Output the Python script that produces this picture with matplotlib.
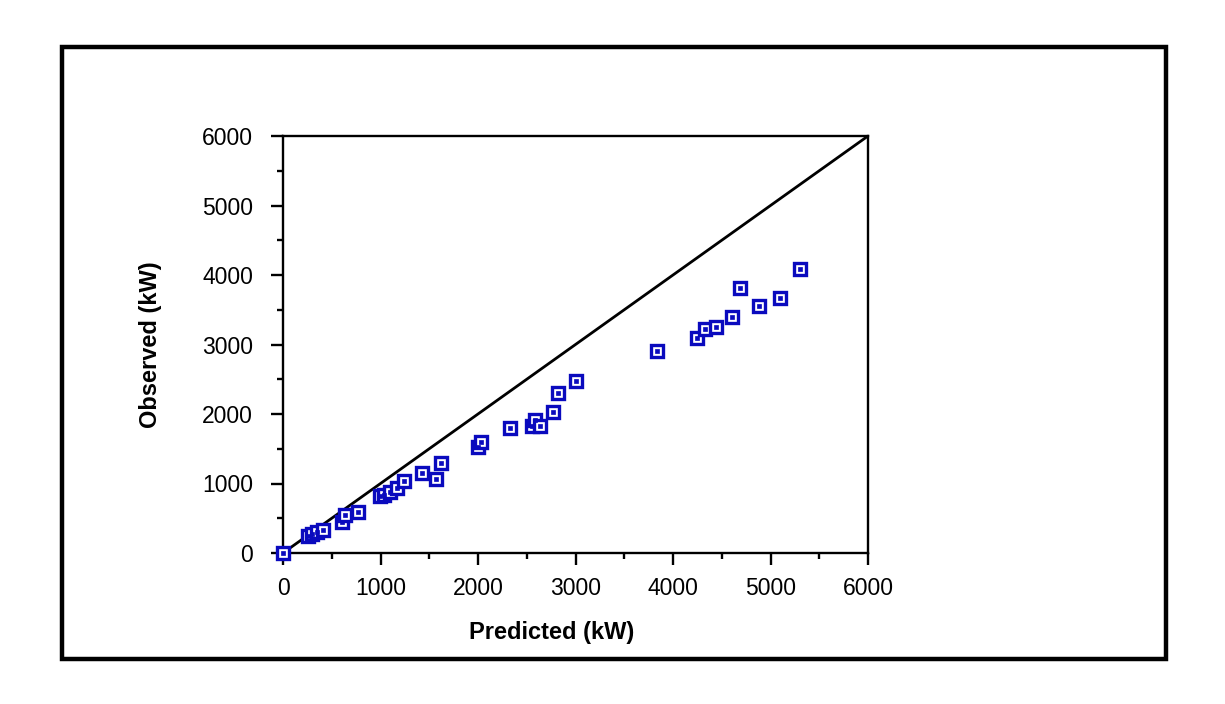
import matplotlib
matplotlib.use('Agg')
import matplotlib.pyplot as plt
from matplotlib.patches import Rectangle
from matplotlib.ticker import MultipleLocator

# === DATA ===
predicted = [0, 260, 300, 350, 410, 610, 640, 770, 990, 1040, 1100, 1170, 1240,
             1430, 1570, 1620, 2000, 2030, 2330, 2550, 2580, 2640, 2770, 2820,
             3000, 3840, 4250, 4330, 4440, 4600, 4690, 4880, 5100, 5300]
observed = [0, 245, 280, 300, 330, 450, 550, 590, 820, 840, 880, 940, 1030,
            1150, 1060, 1290, 1530, 1600, 1800, 1830, 1920, 1830, 2030, 2300,
            2480, 2900, 3100, 3220, 3250, 3400, 3820, 3550, 3670, 4090]
line_x = [0, 6000]
line_y = [0, 6000]

BLUE = '#0A0ABE'
plt.rcParams['font.family'] = ['Liberation Sans', 'DejaVu Sans']

fig = plt.figure(figsize=(12.25, 7.04), dpi=100)
fig.patch.set_facecolor('white')

# outer frame
fig.patches.append(Rectangle((62 / 1225, 1 - 659 / 704), (1166 - 62) / 1225, (659 - 47) / 704,
                             transform=fig.transFigure, fill=False,
                             edgecolor='black', linewidth=3.2))

ax = fig.add_axes([283 / 1225, 1 - 553 / 704, (868 - 283) / 1225, (553 - 136) / 704])

ax.plot(line_x, line_y, color='black', linewidth=2.0, zorder=2)
ax.plot(predicted, observed, linestyle='none', marker='s', markersize=9,
        markerfacecolor='white', markeredgecolor=BLUE, markeredgewidth=2.4,
        clip_on=False, zorder=3)
ax.plot(predicted, observed, linestyle='none', marker='s', markersize=2.2,
        markerfacecolor=BLUE, markeredgecolor=BLUE, markeredgewidth=0.5,
        clip_on=False, zorder=4)

ax.set_xlim(0, 6000)
ax.set_ylim(0, 6000)
ax.xaxis.set_major_locator(MultipleLocator(1000))
ax.yaxis.set_major_locator(MultipleLocator(1000))
ax.xaxis.set_minor_locator(MultipleLocator(500))
ax.yaxis.set_minor_locator(MultipleLocator(500))
ax.tick_params(which='major', direction='out', length=8.6, width=1.7,
               labelsize=16.5, pad=9)
ax.tick_params(which='minor', direction='out', length=4.3, width=1.7)
ax.tick_params(axis='y', which='major', pad=13)
for sp in ax.spines.values():
    sp.set_linewidth(1.7)

fig.text(552 / 1225, 1 - 633 / 704, 'Predicted (kW)', ha='center', va='center',
         fontsize=17, fontweight='bold')
fig.text(150 / 1225, 1 - 345 / 704, 'Observed (kW)', ha='center', va='center',
         rotation=90, fontsize=17, fontweight='bold')

fig.savefig('out.png', dpi=100, facecolor='white')
